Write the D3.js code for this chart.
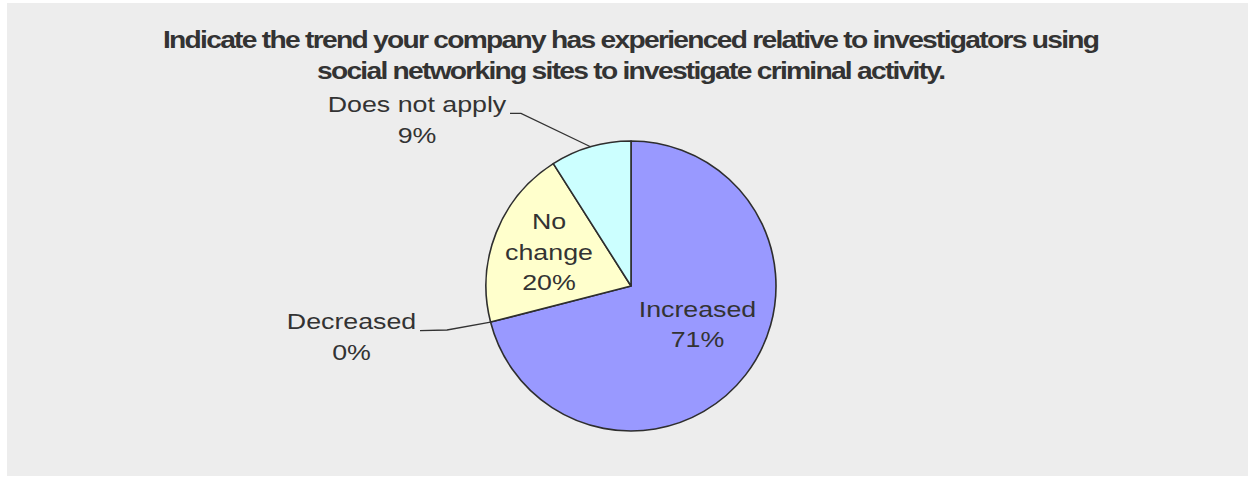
<!DOCTYPE html>
<html>
<head>
<meta charset="utf-8">
<script src="https://cdn.jsdelivr.net/npm/d3@7"></script>
<style>
  html, body { margin: 0; padding: 0; background: #ffffff; }
  svg { display: block; }
</style>
</head>
<body>
<svg id="chart" width="1248" height="477"></svg>
<script>
// Survey answers and their shares (percent)
const categories = ["Increased", "Decreased", "No change", "Does not apply"];
const shares = [71, 0, 20, 9];
const sliceColors = ["#9999ff", "#993366", "#ffffcc", "#ccffff"];
const titleLines = [
  "Indicate the trend your company has experienced relative to investigators using",
  "social networking sites to investigate criminal activity."
];

const svg = d3.select("#chart");
const W = 1248, H = 477;

// panel background
svg.append("rect")
  .attr("x", 7).attr("y", 3)
  .attr("width", W - 7).attr("height", H - 4)
  .attr("fill", "#ededed");

// title: wide glyphs, tight spacing
const titleScale = 1.2;
const titleWidths = [937, 629];
const titleBase = [47.5, 78.5];
const titleG = svg.append("g");
titleLines.forEach((t, i) => {
  titleG.append("text")
    .attr("transform", `translate(631.5,${titleBase[i]}) scale(${titleScale},1)`)
    .attr("text-anchor", "middle")
    .attr("font-family", "Liberation Sans, Arial, sans-serif")
    .attr("font-weight", "bold")
    .attr("font-size", 23.5)
    .attr("fill", "#333333")
    .attr("textLength", titleWidths[i] / titleScale)
    .attr("lengthAdjust", "spacing")
    .text(t);
});

// pie
const cx = 631, cy = 286, R = 145;
const data = categories.map((c, i) => ({ name: c, value: shares[i], color: sliceColors[i] }));
const pie = d3.pie().value(d => d.value).sort(null).startAngle(0).endAngle(2 * Math.PI);
const arcs = pie(data);
const arc = d3.arc().innerRadius(0).outerRadius(R);

const pieG = svg.append("g").attr("transform", `translate(${cx},${cy})`);
pieG.selectAll("path")
  .data(arcs.filter(d => d.data.value > 0))
  .join("path")
  .attr("d", arc)
  .attr("fill", d => d.data.color)
  .attr("stroke", "#2e2e2e")
  .attr("stroke-width", 1.6)
  .attr("stroke-linejoin", "round");

// label layout: inside labels or outside labels with leader elbows
const labelStyle = sel => sel
  .attr("text-anchor", "middle")
  .attr("font-family", "Liberation Sans, Arial, sans-serif")
  .attr("font-size", 22.3)
  .attr("fill", "#333333");

const labelLayout = {
  "Increased":      { x: 697.5, lines: [316.7, 346.7], split: false },
  "No change":      { x: 549,   lines: [229.3, 259.5, 290], split: true },
  "Decreased":      { x: 351.5, lines: [329.3, 360], split: false, elbow: [[420, 330.7], [447, 330]] },
  "Does not apply": { x: 417,   lines: [112, 143], split: false, elbow: [[510, 113.3], [521, 113.3]] }
};

const lblG = svg.append("g");
arcs.forEach(a => {
  const L = labelLayout[a.data.name];
  const words = L.split ? a.data.name.split(" ") : [a.data.name];
  const rows = words.concat([d3.format(".0f")(a.data.value) + "%"]);
  rows.forEach((r, i) => {
    lblG.append("text")
      .attr("transform", `translate(${L.x},${L.lines[i]}) scale(1.2,1)`)
      .call(labelStyle)
      .text(r);
  });
  if (L.elbow) {
    const mid = (a.startAngle + a.endAngle) / 2;
    const px = cx + R * Math.sin(mid);
    const py = cy - R * Math.cos(mid);
    const pts = L.elbow.concat([[px, py]]);
    lblG.append("path")
      .attr("d", d3.line()(pts))
      .attr("fill", "none")
      .attr("stroke", "#333333")
      .attr("stroke-width", 1.3);
  }
});
</script>
</body>
</html>
